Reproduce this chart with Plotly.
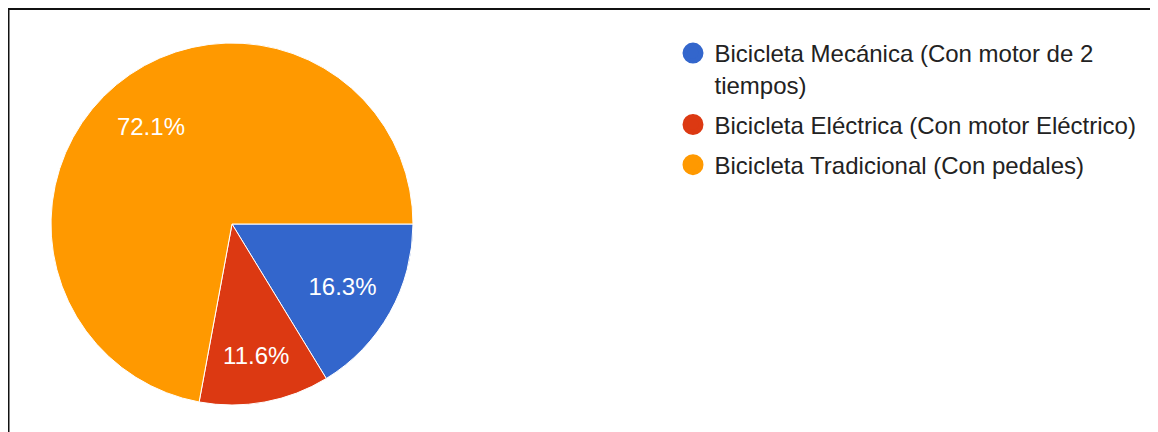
import plotly.graph_objects as go

labels = ["Bicicleta Mecánica (Con motor de 2<br>tiempos)",
          "Bicicleta Eléctrica (Con motor Eléctrico)",
          "Bicicleta Tradicional (Con pedales)"]
counts = [7, 5, 31]
colors = ["#3366CC", "#DC3912", "#FF9900"]

# page has an 8px body margin, so the figure is drawn 8px in from the window edge
W, H = 1150, 424
cx, cy, R = 224, 216, 181
FONT = "Arial, Liberation Sans, sans-serif"
dom = dict(x=[(cx - R) / W, (cx + R) / W], y=[1 - (cy + R) / H, 1 - (cy - R) / H])

fig = go.Figure()
# coloured slices
fig.add_trace(go.Pie(
    labels=labels, values=counts, sort=False, direction="clockwise", rotation=90,
    marker=dict(colors=colors, line=dict(color="white", width=1)),
    textinfo="none", showlegend=False, hoverinfo="label+percent", domain=dom,
))
# transparent ring carrying the percentage labels (places them at ~0.7 R)
fig.add_trace(go.Pie(
    labels=labels, values=counts, sort=False, direction="clockwise", rotation=90,
    hole=0.4,
    marker=dict(colors=["rgba(0,0,0,0)"] * len(counts), line=dict(width=0)),
    texttemplate="%{percent:.1%}", textposition="inside", insidetextorientation="horizontal",
    textfont=dict(family=FONT, size=24, color="white"),
    showlegend=False, hoverinfo="skip", domain=dom,
))
for lab, col in zip(labels, colors):
    fig.add_trace(go.Scatter(
        x=[None], y=[None], mode="markers", name=lab, legendgroup=lab,
        marker=dict(symbol="circle", size=16, color=col, line=dict(color=col, width=5)),
    ))

fig.update_layout(
    width=W, height=H, margin=dict(l=0, r=0, t=0, b=0),
    paper_bgcolor="white", plot_bgcolor="white",
    xaxis=dict(visible=False), yaxis=dict(visible=False),
    legend=dict(x=663.5 / W, y=1 - 23 / H, xanchor="left", yanchor="top",
                font=dict(family=FONT, size=24, color="#222222"),
                itemsizing="trace", itemwidth=33, valign="top",
                tracegroupgap=6, traceorder="grouped"),
    shapes=[
        dict(type="line", xref="paper", yref="paper", x0=0, x1=1, y0=1 - 1 / H, y1=1 - 1 / H,
             line=dict(color="#111111", width=2)),
        dict(type="line", xref="paper", yref="paper", x0=0.5 / W, x1=0.5 / W, y0=0, y1=1 - 1 / H,
             line=dict(color="#111111", width=2)),
    ],
)
fig.write_html("out.html")
